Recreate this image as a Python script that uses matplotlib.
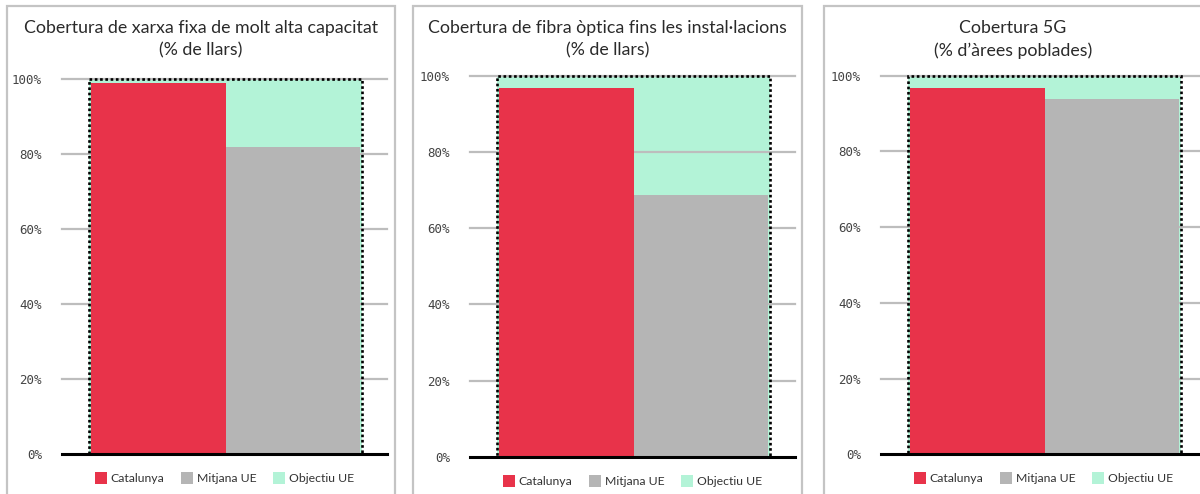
import matplotlib
matplotlib.use("Agg")
import matplotlib.pyplot as plt
from matplotlib.patches import Rectangle, Patch

# ---- data ----
titles = [
    "Cobertura de xarxa fixa de molt alta capacitat\n(% de llars)",
    "Cobertura de fibra òptica fins les instal·lacions\n(% de llars)",
    "Cobertura 5G\n(% d’àrees poblades)",
]
series_names = ["Catalunya", "Mitjana UE", "Objectiu UE"]
catalunya = [98.9, 96.8, 96.8]
mitjana_ue = [81.7, 68.8, 93.9]
objectiu_ue = [100, 100, 100]
yticks = [0, 20, 40, 60, 80, 100]
yticklabels = ["0%", "20%", "40%", "60%", "80%", "100%"]

RED = "#E8334A"
GRAY = "#B5B5B5"
GREEN = "#B3F3D7"
FONT = "Lato"

W, H = 1200, 494
fig = plt.figure(figsize=(W / 100, H / 100), dpi=100)

# panel frames (px): left, right
panels = [(7, 395), (413, 802), (824, 1202)]
# axes (px): left, right, top(100%), bottom(0%)
axes_px = [(62, 387, 78.7, 454.3), (470, 795, 75.7, 457), (881, 1206, 75.7, 454.3)]

for i in range(3):
    pl, pr = panels[i]
    fig.patches.append(Rectangle((pl / W, -0.1), (pr - pl) / W, 1.1 - 6 / H,
                                 transform=fig.transFigure, facecolor="none",
                                 edgecolor="#C4C4C4", lw=1.6, zorder=0))
    fig.text((pl + pr) / 2 / W, 1 - 39.5 / H, titles[i], ha="center", va="center",
             fontsize=12.8, family=FONT, color="#2a2a2a", linespacing=1.5)

    L, R, T, B = axes_px[i]
    ax = fig.add_axes([L / W, 1 - B / H, (R - L) / W, (B - T) / H])
    ax.set_xlim(-0.72, 1.705)
    ax.set_ylim(0, 100)
    for s in ax.spines.values():
        s.set_visible(False)
    ax.set_xticks([])
    ax.set_yticks(yticks)
    ax.set_yticklabels(yticklabels, family="DejaVu Sans Mono", fontsize=9, color="#444444")
    ax.tick_params(axis="y", length=0, pad=14.5)
    for y in yticks[1:]:
        ax.axhline(y, color="#BDBDBD", lw=1.6, zorder=2, clip_on=False)
    ax.axhline(0, color="black", lw=2.2, zorder=5, clip_on=False)

    # objective box
    ax.bar(0.5, objectiu_ue[i], width=2.04, color=GREEN, zorder=1, clip_on=False)
    ax.bar(0.5, objectiu_ue[i], width=2.04, facecolor="none", edgecolor="black",
           lw=1.9, linestyle=(0, (1, 1)), zorder=4, clip_on=False)
    ax.bar([0], [catalunya[i]], width=1.0, color=RED, zorder=3)
    ax.bar([1], [mitjana_ue[i]], width=1.0, color=GRAY, zorder=3)

    handles = [Patch(facecolor=c) for c in (RED, GRAY, GREEN)]
    ax.legend(handles, series_names, loc="center", bbox_to_anchor=(0.5, -0.063),
              ncol=3, frameon=False, handlelength=1.0, handleheight=1.2,
              handletextpad=0.3, columnspacing=1.35,
              prop={"family": FONT, "size": 8.8}, labelcolor="#333333")

fig.savefig("out.png", dpi=100)
